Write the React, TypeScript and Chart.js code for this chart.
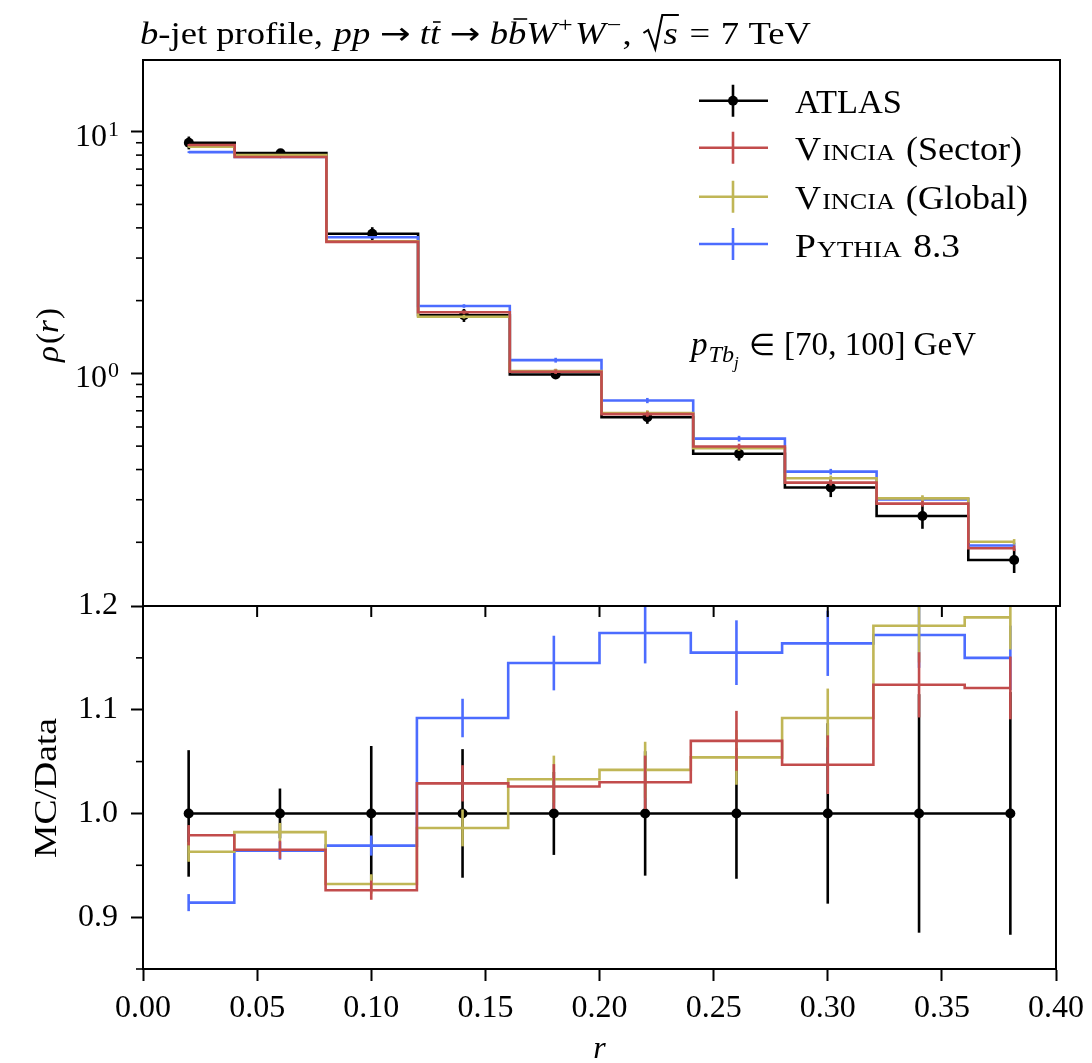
import { useEffect, useRef } from "react";
import { Chart, registerables } from "chart.js";

Chart.register(...registerables);

const SERIF = '"Liberation Serif", "DejaVu Serif", serif';
const SYMBOL = '"DejaVu Sans", sans-serif';
const W = 1092;
const H = 1063;
const PLOT_LEFT = 143;
const PLOT_RIGHT = 1060;
const MAIN_TOP = 60;
const SPLIT = 606;
const RATIO_BOTTOM = 969;

// r bin centres (bins of width 0.04)
const rCenters = [0.02, 0.06, 0.1, 0.14, 0.18, 0.22, 0.26, 0.3, 0.34, 0.38];

// rho(r) distributions
const atlasRho = [9.0, 8.15, 3.78, 1.74, 0.99, 0.658, 0.465, 0.337, 0.257, 0.169];
const sectorRho = [8.81, 7.86, 3.5, 1.79, 1.016, 0.678, 0.498, 0.353, 0.289, 0.189];
const globalRho = [8.67, 8.0, 3.52, 1.716, 1.023, 0.686, 0.49, 0.368, 0.304, 0.201];
const pythiaRho = [8.23, 7.86, 3.66, 1.9, 1.134, 0.772, 0.537, 0.392, 0.301, 0.194];

// MC / Data ratios
const atlasRatio = [1, 1, 1, 1, 1, 1, 1, 1, 1, 1];
const sectorRatio = [0.979, 0.965, 0.926, 1.029, 1.026, 1.03, 1.07, 1.047, 1.124, 1.121];
const globalRatio = [0.963, 0.982, 0.932, 0.986, 1.033, 1.042, 1.054, 1.092, 1.181, 1.189];
const pythiaRatio = [0.914, 0.964, 0.969, 1.092, 1.145, 1.174, 1.155, 1.164, 1.172, 1.15];

// relative uncertainties
const atlasRelErr = [0.061, 0.024, 0.065, 0.062, 0.04, 0.06, 0.063, 0.087, 0.115, 0.117];
const sectorRelErr = [0.01, 0.009, 0.01, 0.017, 0.021, 0.025, 0.027, 0.027, 0.028, 0.027];
const globalRelErr = [0.01, 0.009, 0.01, 0.018, 0.022, 0.026, 0.025, 0.026, 0.03, 0.026];
const pythiaRelErr = [0.009, 0.009, 0.01, 0.017, 0.023, 0.025, 0.027, 0.027, 0.027, 0.027];

// axes
const xTickValues = [0, 0.05, 0.1, 0.15, 0.2, 0.25, 0.3, 0.35, 0.4];
const ratioTickValues = [0.9, 1.0, 1.1, 1.2];
const ratioMinorTicks = [0.85, 0.95, 1.05, 1.15];
const rhoMajorTicks = [1, 10];
const rhoMinorTicks = [0.2, 0.3, 0.4, 0.5, 0.6, 0.7, 0.8, 0.9, 2, 3, 4, 5, 6, 7, 8, 9];
const RHO_MIN = 0.109;
const RHO_MAX = 19.8;
const RATIO_MIN = 0.85;
const RATIO_MAX = 1.2;

const COLORS = {
  atlas: "#000000",
  sector: "rgb(194, 76, 76)",
  global: "rgb(192, 182, 86)",
  pythia: "rgb(76, 108, 255)",
};

const LINE_W = 2.6;

const font = (size: number, italic = false, family = SERIF) => `${italic ? "italic " : ""}${size}px ${family}`;

type Piece = {
  t?: string;
  f?: string;
  dx?: number;
  dy?: number;
  bar?: number;
  w?: number;
  draw?: (ctx: CanvasRenderingContext2D, x: number) => void;
};

// lays out a run of text pieces from (x0, y0); when a target width is
// given the run is stretched horizontally to span it
function drawRun(ctx: CanvasRenderingContext2D, x0: number, y0: number, pieces: Piece[], target?: number) {
  const widths = pieces.map((p) => {
    if (p.t !== undefined) {
      ctx.font = p.f ?? font(32);
      return ctx.measureText(p.t).width;
    }
    return p.w ?? 0;
  });
  const total = pieces.reduce((s, p, i) => s + (p.dx ?? 0) + widths[i], 0);
  const sx = target ? target / total : 1;
  ctx.save();
  ctx.translate(x0, y0);
  ctx.scale(sx, 1);
  ctx.textAlign = "left";
  ctx.textBaseline = "alphabetic";
  let cx = 0;
  pieces.forEach((p, i) => {
    cx += p.dx ?? 0;
    if (p.t !== undefined) {
      ctx.font = p.f ?? font(32);
      ctx.fillText(p.t, cx, p.dy ?? 0);
      if (p.bar) {
        ctx.save();
        ctx.lineWidth = 1.6;
        ctx.beginPath();
        ctx.moveTo(cx + widths[i] * 0.3, -p.bar);
        ctx.lineTo(cx + widths[i] * 1.05, -p.bar);
        ctx.stroke();
        ctx.restore();
      }
    } else if (p.draw) {
      p.draw(ctx, cx);
    }
    cx += widths[i];
  });
  ctx.restore();
}

const pts = (ys: number[]) => rCenters.map((x, i) => ({ x, y: ys[i] }));

function series(label: string, color: string, values: number[], relErr: number[], isData: boolean) {
  return {
    label,
    data: pts(values),
    borderColor: color,
    backgroundColor: color,
    borderWidth: LINE_W,
    stepped: "middle" as const,
    fill: false,
    pointRadius: isData ? 5 : 0,
    pointBorderWidth: 0,
    pointHoverRadius: 0,
    relErr,
  };
}

// vertical error bars drawn under each dataset's own line
const errorBarPlugin = {
  id: "errorBars",
  beforeDatasetDraw(chart: any, args: any) {
    const ds = chart.data.datasets[args.index];
    const errs: number[] | undefined = ds.relErr;
    if (!errs) return;
    const meta = args.meta;
    const yScale = chart.scales[meta.yAxisID];
    const a = chart.chartArea;
    const ctx: CanvasRenderingContext2D = chart.ctx;
    ctx.save();
    ctx.beginPath();
    ctx.rect(a.left, a.top, a.right - a.left, a.bottom - a.top);
    ctx.clip();
    ctx.strokeStyle = ds.borderColor;
    ctx.lineWidth = LINE_W;
    meta.data.forEach((pt: any, i: number) => {
      const v = ds.data[i].y;
      const e = errs[i];
      ctx.beginPath();
      ctx.moveTo(pt.x, yScale.getPixelForValue(v * (1 + e)));
      ctx.lineTo(pt.x, yScale.getPixelForValue(v * (1 - e)));
      ctx.stroke();
    });
    ctx.restore();
  },
};

const T = 31;
const titlePieces: Piece[] = [
  { t: "b", f: font(T, true) },
  { t: "-jet profile,", f: font(T) },
  { t: "pp", f: font(T, true), dx: 9 },
  { t: "\u2192", f: font(T, false, SYMBOL), dx: 8 },
  { t: "t", f: font(T, true), dx: 8 },
  { t: "t", f: font(T, true), bar: 22 },
  { t: "\u2192", f: font(T, false, SYMBOL), dx: 8 },
  { t: "b", f: font(T, true), dx: 8 },
  { t: "b", f: font(T, true), bar: 25 },
  { t: "W", f: font(T, true) },
  { t: "+", f: font(22), dy: -12, dx: 1 },
  { t: "W", f: font(T, true), dx: 2 },
  { t: "\u2212", f: font(22), dy: -12, dx: 1 },
  { t: ",", f: font(T), dx: 1 },
  {
    dx: 9,
    w: 31,
    draw: (ctx, x) => {
      ctx.save();
      ctx.lineWidth = 1.8;
      ctx.beginPath();
      ctx.moveTo(x + 1, -11);
      ctx.lineTo(x + 5, -14);
      ctx.lineTo(x + 11, 5);
      ctx.lineTo(x + 17, -29);
      ctx.lineTo(x + 31, -29);
      ctx.stroke();
      ctx.restore();
      ctx.font = font(T, true);
      ctx.fillText("s", x + 18, 0);
    },
  },
  { t: "=", f: font(T), dx: 9 },
  { t: "7", f: font(T), dx: 9 },
  { t: "TeV", f: font(T), dx: 8 },
];

const L = 33;
const SC = 24;
const legendRows: { color: string; dot: boolean; pieces: Piece[]; width: number }[] = [
  { color: COLORS.atlas, dot: true, pieces: [{ t: "ATLAS", f: font(L) }], width: 107 },
  {
    color: COLORS.sector,
    dot: false,
    pieces: [{ t: "V", f: font(L) }, { t: "INCIA", f: font(SC), dx: 1 }, { t: "(Sector)", f: font(L), dx: 10 }],
    width: 227,
  },
  {
    color: COLORS.global,
    dot: false,
    pieces: [{ t: "V", f: font(L) }, { t: "INCIA", f: font(SC), dx: 1 }, { t: "(Global)", f: font(L), dx: 10 }],
    width: 233,
  },
  {
    color: COLORS.pythia,
    dot: false,
    pieces: [{ t: "P", f: font(L) }, { t: "YTHIA", f: font(SC), dx: 1 }, { t: "8.3", f: font(L), dx: 10 }],
    width: 165,
  },
];

const annotationPieces: Piece[] = [
  { t: "p", f: font(L, true) },
  { t: "T", f: font(24, true), dy: 7, dx: 1 },
  { t: "b", f: font(24, true), dy: 7 },
  { t: "j", f: font(17, true), dy: 13 },
  { t: "\u2208", f: font(30, false, SYMBOL), dx: 10 },
  { t: "[70, 100]", f: font(L), dx: 9 },
  { t: "GeV", f: font(L), dx: 8 },
];

const mainDecor = {
  id: "mainDecor",
  afterDraw(chart: any) {
    const ctx: CanvasRenderingContext2D = chart.ctx;
    const a = chart.chartArea;
    const ys = chart.scales.y;
    ctx.save();
    ctx.strokeStyle = "#000";
    ctx.fillStyle = "#000";
    ctx.lineWidth = 2;
    ctx.strokeRect(a.left, a.top, a.right - a.left, a.bottom - a.top);

    // minor log ticks
    ctx.lineWidth = 1.6;
    for (const v of rhoMinorTicks) {
      const y = ys.getPixelForValue(v);
      ctx.beginPath();
      ctx.moveTo(a.left - 7, y);
      ctx.lineTo(a.left, y);
      ctx.stroke();
    }

    // decade labels 10^n
    for (const v of rhoMajorTicks) {
      const y = ys.getPixelForValue(v);
      const exp = String(Math.round(Math.log10(v)));
      drawRun(ctx, 75, y + 14, [{ t: "10", f: font(32) }, { t: exp, f: font(22), dy: -10, dx: 1 }]);
    }

    drawRun(ctx, 140, 44, titlePieces, 671);

    // legend
    legendRows.forEach((row, i) => {
      const ly = [100.7, 147.7, 196.7, 244][i];
      ctx.strokeStyle = row.color;
      ctx.lineWidth = LINE_W;
      ctx.beginPath();
      ctx.moveTo(699, ly);
      ctx.lineTo(768, ly);
      ctx.moveTo(733, ly - 16);
      ctx.lineTo(733, ly + 16);
      ctx.stroke();
      if (row.dot) {
        ctx.fillStyle = row.color;
        ctx.beginPath();
        ctx.arc(733, ly, 5, 0, Math.PI * 2);
        ctx.fill();
      }
      ctx.fillStyle = "#000";
      drawRun(ctx, 795, ly + 12.5, row.pieces, row.width);
    });

    // kinematic range annotation
    drawRun(ctx, 691, 355, annotationPieces, 285);

    // y axis title
    ctx.save();
    ctx.translate(58, 335);
    ctx.rotate(-Math.PI / 2);
    drawRun(
      ctx,
      -27,
      0,
      [
        { t: "\u03C1", f: font(32, true) },
        { t: "(", f: font(32), dx: 2 },
        { t: "r", f: font(32, true) },
        { t: ")", f: font(32), dx: 1 },
      ],
      54
    );
    ctx.restore();

    ctx.restore();
  },
};

const ratioDecor = {
  id: "ratioDecor",
  afterDraw(chart: any) {
    const ctx: CanvasRenderingContext2D = chart.ctx;
    const a = chart.chartArea;
    const ys = chart.scales.y;
    const xs = chart.scales.x;
    ctx.save();
    ctx.strokeStyle = "#000";
    ctx.fillStyle = "#000";
    ctx.lineWidth = 2;
    ctx.strokeRect(a.left, a.top, a.right - a.left, a.bottom - a.top);

    ctx.lineWidth = 1.6;
    for (const v of ratioMinorTicks) {
      const y = ys.getPixelForValue(v);
      ctx.beginPath();
      ctx.moveTo(a.left - 7, y);
      ctx.lineTo(a.left, y);
      ctx.stroke();
    }
    ctx.lineWidth = 2;
    for (const v of xTickValues) {
      const x = xs.getPixelForValue(v);
      ctx.beginPath();
      ctx.moveTo(x, a.top);
      ctx.lineTo(x, a.top + 11);
      ctx.stroke();
    }

    // axis titles
    ctx.save();
    ctx.translate(56, 788);
    ctx.rotate(-Math.PI / 2);
    drawRun(ctx, -70, 0, [{ t: "MC/Data", f: font(32) }], 140);
    ctx.restore();

    ctx.font = font(32, true);
    const rw = ctx.measureText("r").width;
    drawRun(ctx, xs.getPixelForValue(0.2) - rw / 2, 1058, [{ t: "r", f: font(32, true) }]);
    ctx.restore();
  },
};

const tickFont = { family: SERIF, size: 32 };

function mainConfig(): any {
  return {
    type: "line",
    data: {
      datasets: [
        series("Vincia (Sector)", COLORS.sector, sectorRho, sectorRelErr, false),
        series("Vincia (Global)", COLORS.global, globalRho, globalRelErr, false),
        series("Pythia 8.3", COLORS.pythia, pythiaRho, pythiaRelErr, false),
        series("ATLAS", COLORS.atlas, atlasRho, atlasRelErr, true),
      ],
    },
    options: {
      responsive: false,
      animation: false,
      devicePixelRatio: 1,
      events: [],
      layout: { padding: { top: MAIN_TOP, bottom: H - SPLIT, right: W - PLOT_RIGHT, left: 0 } },
      plugins: { legend: { display: false }, tooltip: { enabled: false } },
      scales: {
        x: { type: "linear", min: 0, max: 0.4, display: false },
        y: {
          type: "logarithmic",
          position: "left",
          min: RHO_MIN,
          max: RHO_MAX,
          afterFit: (s: any) => {
            s.width = PLOT_LEFT;
          },
          afterBuildTicks: (s: any) => {
            s.ticks = rhoMajorTicks.map((v) => ({ value: v, major: true }));
          },
          ticks: { callback: () => "", font: tickFont, color: "#000", padding: 13 },
          grid: { display: true, drawOnChartArea: false, drawTicks: true, tickLength: 12, tickWidth: 2, tickColor: "#000" },
          border: { display: true, width: 2, color: "#000" },
        },
      },
    },
    plugins: [errorBarPlugin, mainDecor],
  };
}

function ratioConfig(): any {
  return {
    type: "line",
    data: {
      datasets: [
        series("Vincia (Sector)", COLORS.sector, sectorRatio, sectorRelErr, false),
        series("Vincia (Global)", COLORS.global, globalRatio, globalRelErr, false),
        series("Pythia 8.3", COLORS.pythia, pythiaRatio, pythiaRelErr, false),
        series("ATLAS", COLORS.atlas, atlasRatio, atlasRelErr, true),
      ],
    },
    options: {
      responsive: false,
      animation: false,
      devicePixelRatio: 1,
      events: [],
      layout: { padding: { top: SPLIT, bottom: 0, right: W - PLOT_RIGHT, left: 0 } },
      plugins: { legend: { display: false }, tooltip: { enabled: false } },
      scales: {
        x: {
          type: "linear",
          position: "bottom",
          min: 0,
          max: 0.4,
          afterFit: (s: any) => {
            s.height = H - RATIO_BOTTOM;
          },
          afterBuildTicks: (s: any) => {
            s.ticks = xTickValues.map((v) => ({ value: v }));
          },
          ticks: {
            callback: (v: any) => Number(v).toFixed(2),
            font: tickFont,
            color: "#000",
            padding: 8,
            maxRotation: 0,
            autoSkip: false,
          },
          grid: { display: true, drawOnChartArea: false, drawTicks: true, tickLength: 12, tickWidth: 2, tickColor: "#000" },
          border: { display: true, width: 2, color: "#000" },
        },
        y: {
          type: "linear",
          position: "left",
          min: RATIO_MIN,
          max: RATIO_MAX,
          afterFit: (s: any) => {
            s.width = PLOT_LEFT;
          },
          afterBuildTicks: (s: any) => {
            s.ticks = ratioTickValues.map((v) => ({ value: v }));
          },
          ticks: {
            callback: (v: any) => Number(v).toFixed(1),
            font: tickFont,
            color: "#000",
            padding: 13,
            autoSkip: false,
          },
          grid: { display: true, drawOnChartArea: false, drawTicks: true, tickLength: 12, tickWidth: 2, tickColor: "#000" },
          border: { display: true, width: 2, color: "#000" },
        },
      },
    },
    plugins: [errorBarPlugin, ratioDecor],
  };
}

export default function App() {
  const mainRef = useRef<HTMLCanvasElement>(null);
  const ratioRef = useRef<HTMLCanvasElement>(null);

  useEffect(() => {
    const ratioChart = new Chart(ratioRef.current as HTMLCanvasElement, ratioConfig());
    const mainChart = new Chart(mainRef.current as HTMLCanvasElement, mainConfig());
    return () => {
      mainChart.destroy();
      ratioChart.destroy();
    };
  }, []);

  return (
    <div style={{ position: "absolute", left: 0, top: 0, width: W, height: H, background: "#fff" }}>
      <canvas ref={ratioRef} width={W} height={H} style={{ position: "absolute", left: 0, top: 0 }} />
      <canvas ref={mainRef} width={W} height={H} style={{ position: "absolute", left: 0, top: 0 }} />
    </div>
  );
}
